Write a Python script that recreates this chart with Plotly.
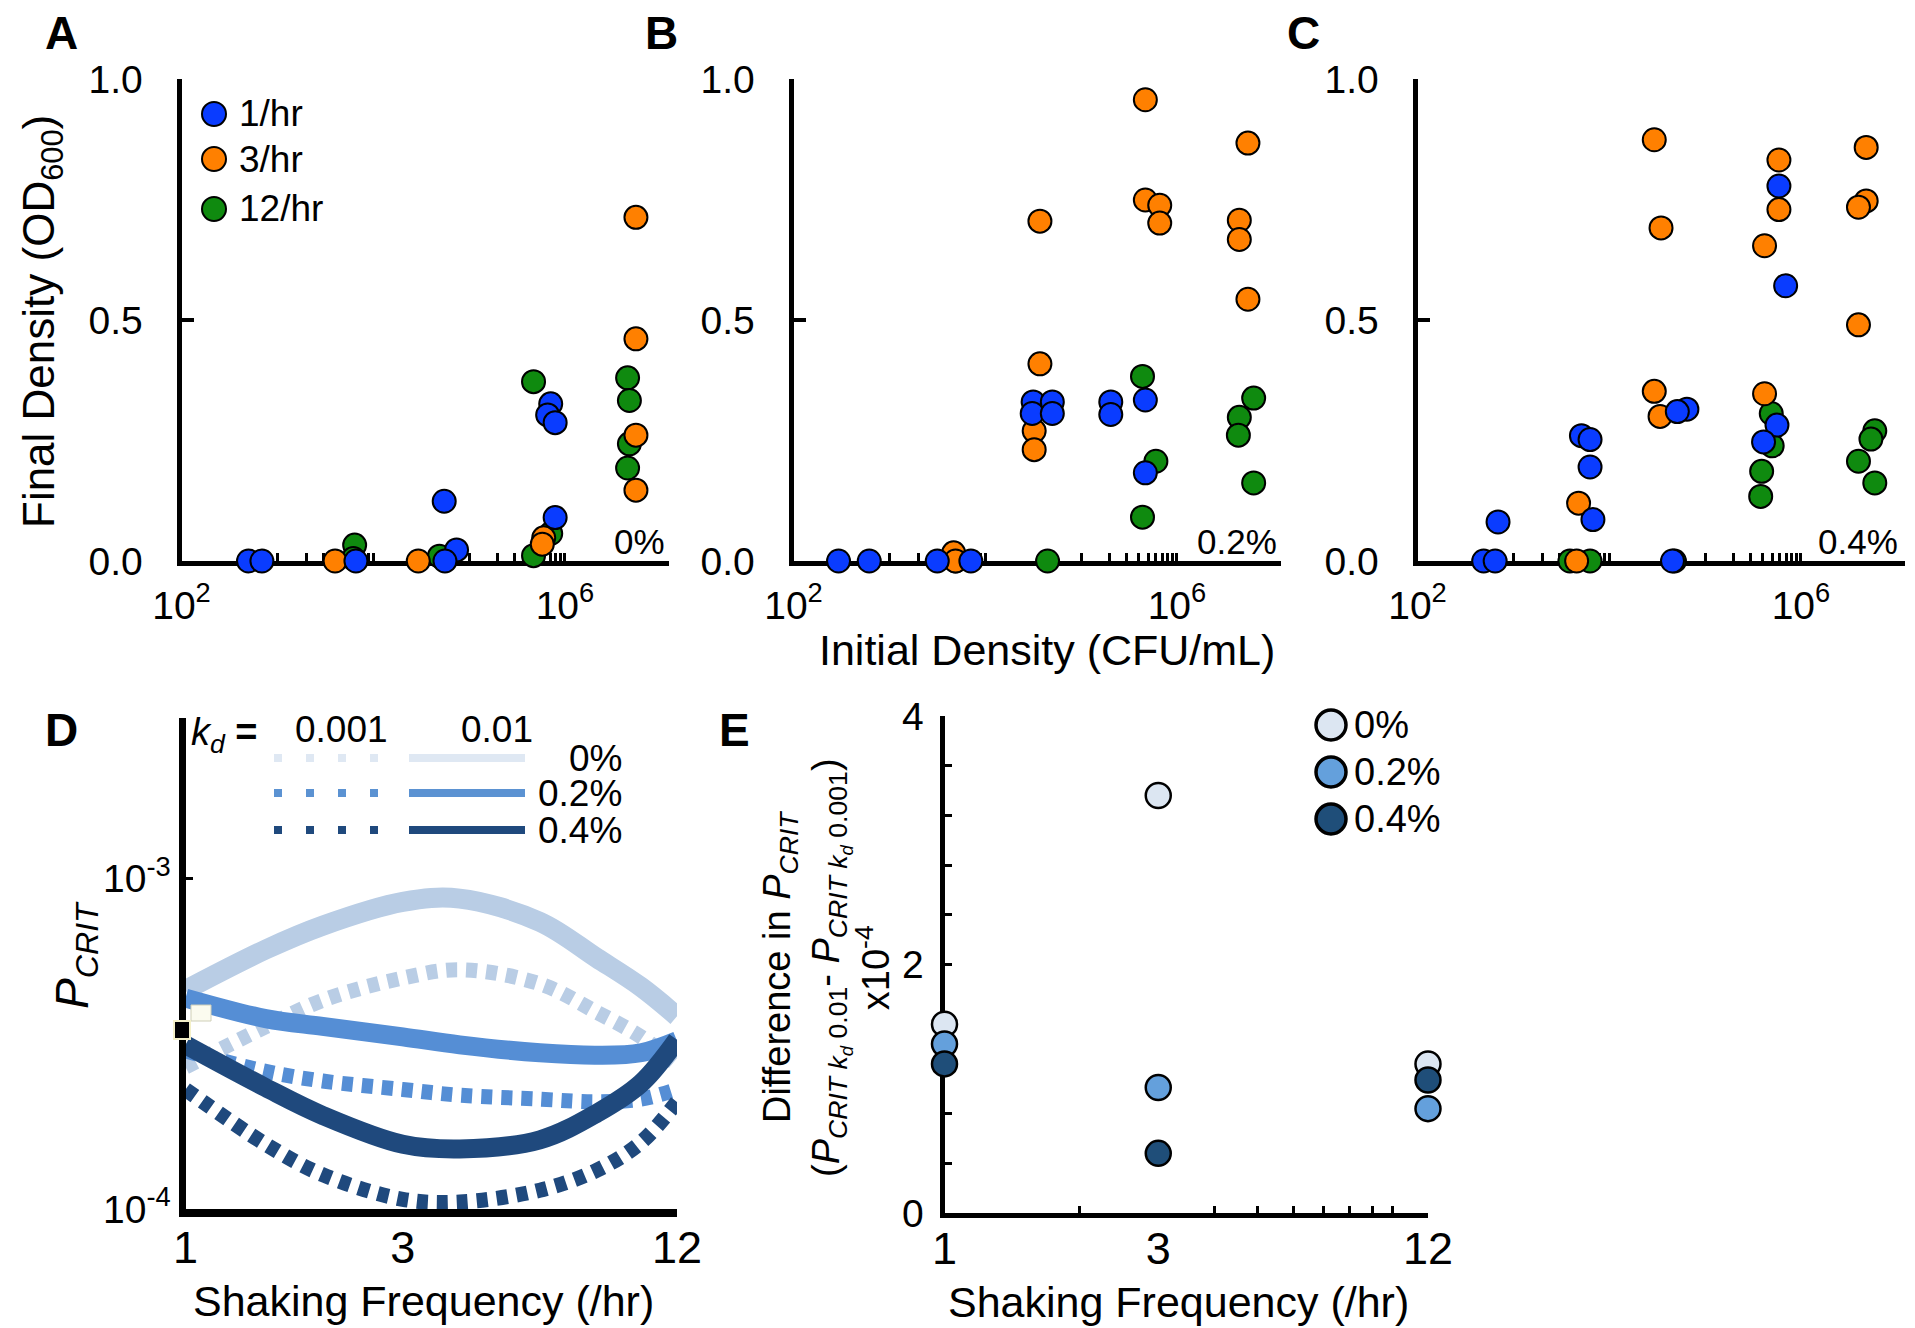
import plotly.graph_objects as go

W, H = 1915, 1328
FONT = "Liberation Sans, Arial, Helvetica, sans-serif"

# ---------------- Panels A-C: Final density vs initial density ----------------
# Panel A (0%)
A_blue_x = [500, 690, 6600, 55000, 74000, 56000, 710000, 660000, 790000, 790000]
A_blue_y = [0, 0, 0, 0.124, 0.023, 0, 0.326, 0.303, 0.287, 0.090]
A_orange_x = [4000, 29500, 600000, 580000, 5500000, 5500000, 5500000, 5500000]
A_orange_y = [0, 0, 0.048, 0.035, 0.713, 0.461, 0.261, 0.147]
A_green_x = [6400, 6200, 49000, 470000, 470000, 710000, 4500000, 4700000, 4700000, 4500000]
A_green_y = [0.033, 0.005, 0.010, 0.372, 0.011, 0.057, 0.380, 0.333, 0.243, 0.193]

# Panel B (0.2%)
B_blue_x = [295, 617, 3160, 7080, 31600, 50100, 30900, 50100, 204000, 204000, 468000, 468000]
B_blue_y = [0, 0, 0, 0, 0.330, 0.330, 0.306, 0.306, 0.330, 0.304, 0.334, 0.183]
B_orange_x = [4680, 4900, 37200, 37200, 32400, 32400, 468000, 468000, 661000, 661000,
              5500000, 4470000, 4470000, 5500000]
B_orange_y = [0.017, 0, 0.705, 0.409, 0.270, 0.231, 0.957, 0.749, 0.738, 0.701,
              0.867, 0.707, 0.667, 0.543]
B_green_x = [4900, 44700, 437000, 603000, 437000, 6310000, 4470000, 4370000, 6310000]
B_green_y = [0, 0, 0.383, 0.207, 0.091, 0.338, 0.298, 0.261, 0.162]

# Panel C (0.4%)
C_blue_x = [490, 646, 692, 5130, 6310, 6310, 6760, 45700, 64600, 51300,
            589000, 692000, 562000, 407000]
C_blue_y = [0, 0, 0.081, 0.260, 0.252, 0.195, 0.086, 0, 0.315, 0.310,
            0.778, 0.571, 0.282, 0.247]
C_orange_x = [4790, 4570, 29500, 34700, 29500, 33900, 589000, 589000, 417000, 417000,
              4790000, 4790000, 3980000, 3980000]
C_orange_y = [0.120, 0, 0.874, 0.691, 0.352, 0.300, 0.832, 0.729, 0.654, 0.347,
              0.858, 0.747, 0.734, 0.490]
C_green_x = [3890, 6310, 47900, 490000, 501000, 389000, 380000, 5890000, 5370000, 3980000, 5890000]
C_green_y = [0, 0, 0, 0.306, 0.239, 0.186, 0.134, 0.270, 0.253, 0.207, 0.162]

series_labels = ["1/hr", "3/hr", "12/hr"]
panel_pct = ["0%", "0.2%", "0.4%"]

# ---------------- Panel D: P_CRIT vs shaking frequency ----------------
freq_D = [1, 1.5, 2, 3, 4, 6, 8, 10, 12]
p0_kd01 = [4.60e-4, 6.10e-4, 7.20e-4, 8.50e-4, 8.70e-4, 7.40e-4, 5.75e-4, 4.70e-4, 3.83e-4]
p0_kd001 = [2.69e-4, 3.56e-4, 4.28e-4, 5.00e-4, 5.30e-4, 4.80e-4, 3.94e-4, 3.32e-4, 2.73e-4]
p2_kd01 = [4.35e-4, 3.77e-4, 3.57e-4, 3.32e-4, 3.14e-4, 2.97e-4, 2.92e-4, 2.97e-4, 3.23e-4]
p2_kd001 = [3.01e-4, 2.61e-4, 2.44e-4, 2.30e-4, 2.21e-4, 2.15e-4, 2.11e-4, 2.15e-4, 2.30e-4]
p4_kd01 = [3.14e-4, 2.33e-4, 1.92e-4, 1.57e-4, 1.52e-4, 1.62e-4, 1.95e-4, 2.40e-4, 3.25e-4]
p4_kd001 = [2.30e-4, 1.57e-4, 1.27e-4, 1.07e-4, 1.05e-4, 1.14e-4, 1.31e-4, 1.59e-4, 2.11e-4]

# ---------------- Panel E: difference in P_CRIT (x1e-4) ----------------
freq_E = [1, 3, 12]
diff_0 = [1.52, 3.36, 1.20]
diff_02 = [1.36, 1.01, 0.84]
diff_04 = [1.20, 0.48, 1.07]
pct_labels_E = ["0%", "0.2%", "0.4%"]

# ---------------- styling ----------------
BLUE, ORANGE, GREEN = "#0a3cff", "#ff8000", "#0f8a0f"
LIGHT, MED, DARK = "#b9cde5", "#558ed5", "#1f497d"
E_COLS = ["#dce6f2", "#64a0dc", "#1f4e79"]


def xd(x0, x1):
    return [x0 / W, x1 / W]


def yd(y0, y1):
    return [1 - y1 / H, 1 - y0 / H]


def px(x):
    return x / W


def py(y):
    return 1 - y / H


fig = go.Figure()

panels = [
    ("x", "y", (A_green_x, A_green_y), (A_orange_x, A_orange_y), (A_blue_x, A_blue_y)),
    ("x2", "y2", (B_green_x, B_green_y), (B_orange_x, B_orange_y), (B_blue_x, B_blue_y)),
    ("x3", "y3", (C_green_x, C_green_y), (C_orange_x, C_orange_y), (C_blue_x, C_blue_y)),
]
for xa, ya, g, o, b in panels:
    for (xs, ys), col in [(g, GREEN), (o, ORANGE), (b, BLUE)]:
        fig.add_trace(go.Scatter(
            x=xs, y=ys, mode="markers", xaxis=xa, yaxis=ya, cliponaxis=False,
            showlegend=False,
            marker=dict(size=23, color=col, line=dict(color="black", width=2))))

# Panel D curves
for ys, col, dash, w in [(p0_kd01, LIGHT, "solid", 20), (p0_kd001, LIGHT, "11px,9px", 15),
                         (p2_kd01, MED, "solid", 19), (p2_kd001, MED, "11px,9px", 15),
                         (p4_kd01, DARK, "solid", 19), (p4_kd001, DARK, "11px,9px", 15)]:
    fig.add_trace(go.Scatter(x=freq_D, y=ys, mode="lines", xaxis="x4", yaxis="y4",
                             showlegend=False,
                             line=dict(color=col, width=w, dash=dash, shape="spline")))

# Panel E points
for ys, col in [(diff_0, E_COLS[0]), (diff_02, E_COLS[1]), (diff_04, E_COLS[2])]:
    fig.add_trace(go.Scatter(x=freq_E, y=ys, mode="markers", xaxis="x5", yaxis="y5",
                             cliponaxis=False, showlegend=False,
                             marker=dict(size=25, color=col, line=dict(color="black", width=2.5))))

tickfont = dict(family=FONT, size=39, color="black")
bigtick = dict(family=FONT, size=45, color="black")

# minor tick positions for A-C (ticks drawn only in two decades, as in the figure)
abc_minor = [k * 1000 for k in range(1, 11)] + [k * 100000 for k in range(1, 10)]

layout = dict(
    width=W, height=H, margin=dict(l=0, r=0, t=0, b=0, autoexpand=False),
    paper_bgcolor="white", plot_bgcolor="white",
    font=dict(family=FONT, color="black"),
    showlegend=False,
)

x_left = {"": 181.5, "2": 793.5, "3": 1417.5}
for suf, xl in x_left.items():
    layout["xaxis" + suf] = dict(
        type="log", range=[2, 7.08], domain=xd(xl, xl + 487),
        anchor="y" + suf, showgrid=False, zeroline=False, automargin=False,
        showline=True, linewidth=5, linecolor="black",
        ticks="inside", ticklen=8, tickwidth=3, tickcolor="black",
        tickvals=[100, 1e6], ticktext=["10<sup>2</sup>", "10<sup>6</sup>"],
        minor=dict(tickvals=abc_minor, ticks="inside", ticklen=8, tickwidth=3,
                   tickcolor="black", showgrid=False),
        tickfont=tickfont, ticklabelstandoff=6, layer="below traces")
    layout["yaxis" + suf] = dict(
        range=[0, 1], domain=yd(79, 561), anchor="x" + suf,
        showgrid=False, zeroline=False, automargin=False,
        showline=True, linewidth=5, linecolor="black",
        ticks="inside", ticklen=12, tickwidth=4, tickcolor="black",
        tickvals=[0, 0.5, 1.0], ticktext=["0.0", "0.5", "1.0"], tickfont=tickfont,
        ticklabelstandoff=26, layer="below traces")

# Panel D axes
layout["xaxis4"] = dict(
    type="log", range=[0, 1.0792], domain=xd(185.5, 677), anchor="y4",
    showgrid=False, zeroline=False, automargin=False,
    showline=True, linewidth=8, linecolor="black",
    ticks="", tickvals=[1, 3, 12], ticktext=["1", "3", "12"],
    tickfont=bigtick, ticklabelstandoff=-8)
layout["yaxis4"] = dict(
    type="log", range=[-4, -2.514], domain=yd(718, 1209), anchor="x4",
    showgrid=False, zeroline=False, automargin=False,
    showline=True, linewidth=7, linecolor="black",
    ticks="inside", ticklen=7, tickwidth=3, tickcolor="black",
    tickvals=[1e-4, 1e-3], ticktext=["10<sup>-4</sup>", "10<sup>-3</sup>"],
    tickfont=tickfont, ticklabelstandoff=0)

# Panel E axes
layout["xaxis5"] = dict(
    type="log", range=[0, 1.0792], domain=xd(944.5, 1428), anchor="y5",
    showgrid=False, zeroline=False, automargin=False,
    showline=True, linewidth=5, linecolor="black",
    ticks="", tickvals=[1, 3, 12], ticktext=["1", "3", "12"],
    minor=dict(tickvals=[2, 4, 5, 6, 7, 8, 9, 10], ticks="inside", ticklen=7,
               tickwidth=3, tickcolor="black", showgrid=False),
    tickfont=bigtick, ticklabelstandoff=-8,
    layer="below traces")
layout["yaxis5"] = dict(
    range=[0, 4], domain=yd(716, 1213), anchor="x5",
    showgrid=False, zeroline=False, automargin=False,
    showline=True, linewidth=5, linecolor="black",
    ticks="inside", ticklen=7, tickwidth=3, tickcolor="black",
    tickvals=[0, 2, 4], ticktext=["0", "2", "4"],
    minor=dict(tickvals=[0.4, 0.8, 1.2, 1.6, 2.4, 2.8, 3.2, 3.6], ticks="inside",
               ticklen=7, tickwidth=3, tickcolor="black", showgrid=False),
    tickfont=tickfont, ticklabelstandoff=8, layer="below traces")

fig.update_layout(**layout)

ann = []


def text(x, y, s, size=38, xanchor="center", yanchor="middle", angle=0, bold=False):
    ann.append(dict(x=px(x), y=py(y), xref="paper", yref="paper", text=s,
                    showarrow=False, xanchor=xanchor, yanchor=yanchor, textangle=angle,
                    font=dict(family=FONT, size=size, color="black",
                              weight="bold" if bold else "normal")))


# panel letters
for letter, (lx, ly) in zip("ABCDE", [(61, 33), (661, 33), (1303, 33), (61, 730), (734, 730)]):
    text(lx, ly, letter, size=46, bold=True)

# axis titles
text(42, 322, "Final Density (OD<sub>600</sub>)", size=44, angle=-90)
text(1047, 650, "Initial Density (CFU/mL)", size=43)
text(423, 1301, "Shaking Frequency (/hr)", size=43)
text(1178, 1302, "Shaking Frequency (/hr)", size=43)
text(76, 955, "<i>P</i><sub><i>CRIT</i></sub>", size=46, angle=-90)
text(826, 968,
     "Difference in <i>P</i><sub><i>CRIT</i></sub><br>"
     "(<i>P</i><sub><i>CRIT k<sub>d</sub></i> 0.01</sub>- <i>P</i><sub><i>CRIT k<sub>d</sub></i> 0.001</sub>)<br>"
     "x10<sup>-4</sup>", size=38, angle=-90)

# percent labels in A-C
for lbl, xr in zip(panel_pct, [667, 1279, 1900]):
    text(xr, 541, lbl, size=35, xanchor="right")

# legend for A
shapes = []
for lbl, col, ly in zip(series_labels, [BLUE, ORANGE, GREEN], [114, 159, 209]):
    shapes.append(dict(type="circle", xref="paper", yref="paper", xsizemode="pixel",
                       ysizemode="pixel", xanchor=px(214), yanchor=py(ly),
                       x0=-12, x1=12, y0=-12, y1=12, fillcolor=col,
                       line=dict(color="black", width=2)))
    text(237, ly, lbl, size=37, xanchor="left")

# legend for D
text(189, 735, "<i>k</i><sub><i>d</i></sub> <b>=</b>", size=38, xanchor="left")
text(341, 730, "0.001", size=37)
text(497, 730, "0.01", size=37)
for lbl, col, ly in zip(["0%", "0.2%", "0.4%"], ["#dfe8f3", "#5b92d2", DARK], [758, 793, 830]):
    shapes.append(dict(type="line", xref="paper", yref="paper",
                       x0=px(274), x1=px(382), y0=py(ly), y1=py(ly),
                       line=dict(color=col, width=8, dash="8px,24px")))
    shapes.append(dict(type="line", xref="paper", yref="paper",
                       x0=px(409), x1=px(525), y0=py(ly), y1=py(ly),
                       line=dict(color=col, width=8)))
    text(624, ly, lbl, size=37, xanchor="right")

# small artefact boxes on the D axis
shapes.append(dict(type="rect", xref="paper", yref="paper", x0=px(191), x1=px(211),
                   y0=py(1021), y1=py(1005), fillcolor="#fbfbef",
                   line=dict(color="#cfcfb8", width=1)))
shapes.append(dict(type="rect", xref="paper", yref="paper", x0=px(174), x1=px(190),
                   y0=py(1039), y1=py(1021), fillcolor="black",
                   line=dict(color="#f4f0c8", width=2)))

# legend for E
for lbl, col, ly in zip(pct_labels_E, E_COLS, [725, 772, 819]):
    shapes.append(dict(type="circle", xref="paper", yref="paper", xsizemode="pixel",
                       ysizemode="pixel", xanchor=px(1331), yanchor=py(ly),
                       x0=-15, x1=15, y0=-15, y1=15, fillcolor=col,
                       line=dict(color="black", width=3.5)))
    text(1352, ly, lbl, size=38, xanchor="left")

fig.update_layout(annotations=ann, shapes=shapes)
fig.write_html("out.html")
